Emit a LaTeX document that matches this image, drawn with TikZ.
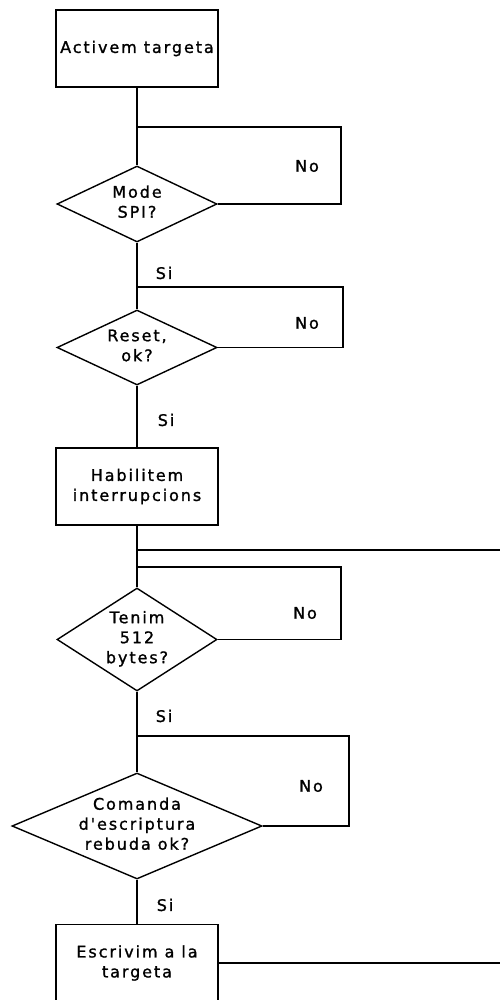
\documentclass[tikz,border=0pt]{standalone}
\usepackage{fontspec}
\newfontfamily\chartfont{DejaVu Sans}[LetterSpace=12,FakeBold=1.2]
\usetikzlibrary{shapes.geometric}

% text of a decision: centred, taking no room, so the diamond keeps its set size
\newcommand\dtext[1]{\raisebox{-4pt}[0pt][0pt]{\makebox[0pt]{\begin{tabular}{@{}c@{}}#1\end{tabular}}}}

\begin{document}
\begin{tikzpicture}[x=1pt,y=-1pt,line width=1.4pt,
  every node/.style={font=\chartfont\fontsize{16}{20}\selectfont,align=center},
  procbox/.style={draw,rectangle,minimum width=162pt,minimum height=77pt,inner sep=0pt},
  decision/.style={draw,diamond,inner sep=0pt},
  lbl/.style={inner sep=0pt}]
\useasboundingbox (0,0) rectangle (499,1000);

% process boxes and decisions
\node[procbox] (b1) at (137,48.5) {Activem targeta};
\node[decision,minimum width=160pt,minimum height=76pt] (d1) at (137,204) {\dtext{Mode\\SPI?}};
\node[decision,minimum width=160pt,minimum height=75pt] (d2) at (137,347.5) {\dtext{Reset,\\ok?}};
\node[procbox] (b2) at (137,486.5) {Habilitem\\interrupcions};
\node[decision,minimum width=160pt,minimum height=103pt] (d3) at (137,639.5) {\dtext{Tenim\\512\\bytes?}};
\node[decision,minimum width=250pt,minimum height=106pt] (d4) at (137,826) {\dtext{Comanda\\d'escriptura\\rebuda ok?}};
\node[procbox] (b3) at (137,963) {Escrivim a la\\targeta};

% junction points on the main line and loop corners
\coordinate (j1) at (137,127);
\coordinate (k1) at (341,204);
\coordinate (j2) at (137,287);
\coordinate (k2) at (343,347.5);
\coordinate (j0) at (137,550);
\coordinate (e1) at (501,550);
\coordinate (j3) at (137,567);
\coordinate (k3) at (341,639.5);
\coordinate (j4) at (137,736);
\coordinate (k4) at (349,826);
\coordinate (e2) at (501,963);

% main flow
\draw (b1.south) -- (d1.north);
\draw (d1.south) -- (d2.north);
\draw (d2.south) -- (b2.north);
\draw (b2.south) -- (d3.north);
\draw (d3.south) -- (d4.north);
\draw (d4.south) -- (b3.north);

% "No" loops back to the line above each decision
\draw (j1) -| (k1) -- (d1.east);
\draw (j2) -| (k2) -- (d2.east);
\draw (j3) -| (k3) -- (d3.east);
\draw (j4) -| (k4) -- (d4.east);

% return path
\draw (j0) -- (e1);
\draw (b3.east) -- (e2);

% branch labels
\node[lbl] (n1) at (307,166) {No};
\node[lbl] (n2) at (307,323) {No};
\node[lbl] (n3) at (305,613) {No};
\node[lbl] (n4) at (311,786) {No};
\node[lbl] (s1) at (164,273) {Si};
\node[lbl] (s2) at (166,420) {Si};
\node[lbl] (s3) at (164,716) {Si};
\node[lbl] (s4) at (165,905) {Si};
\end{tikzpicture}
\end{document}
